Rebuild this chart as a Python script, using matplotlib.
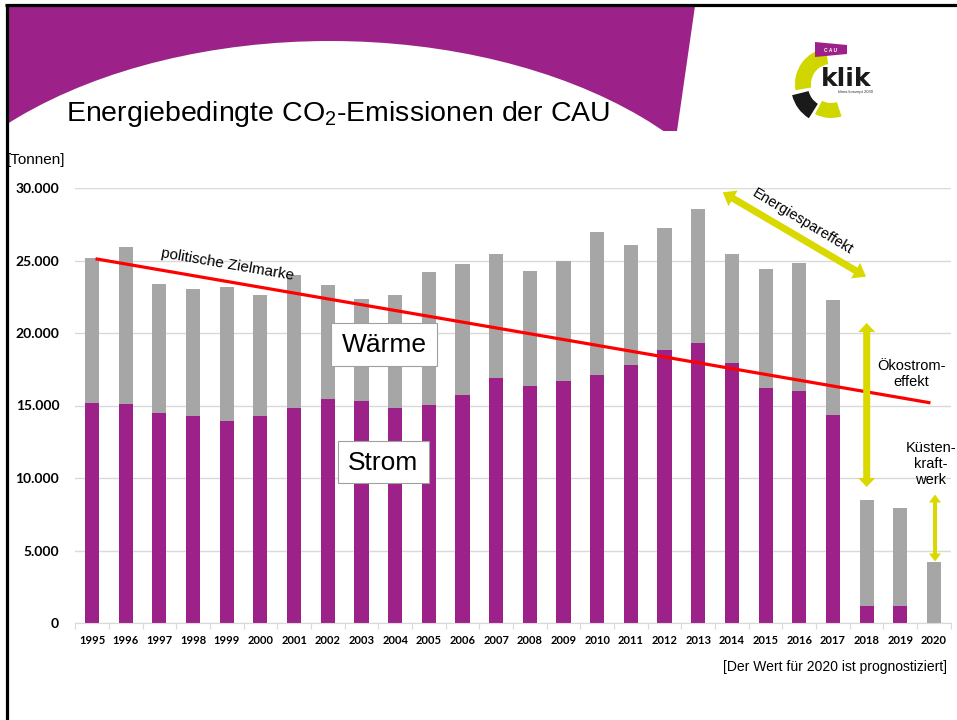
import numpy as np
import matplotlib.pyplot as plt
import matplotlib.patches as patches

plt.rcParams['font.family'] = ['Liberation Sans', 'DejaVu Sans']
plt.rcParams['mathtext.fontset'] = 'custom'
plt.rcParams['mathtext.rm'] = 'Liberation Sans'
plt.rcParams['mathtext.it'] = 'Liberation Sans:italic'
plt.rcParams['mathtext.bf'] = 'Liberation Sans:bold'

# data [Tonnen CO2]
years = ['1995', '1996', '1997', '1998', '1999', '2000', '2001', '2002', '2003',
         '2004', '2005', '2006', '2007', '2008', '2009', '2010', '2011', '2012',
         '2013', '2014', '2015', '2016', '2017', '2018', '2019', '2020']
strom = [15150, 15100, 14500, 14250, 13950, 14250, 14850, 15450, 15300,
         14800, 15050, 15750, 16900, 16350, 16700, 17100, 17800, 18800,
         19300, 17900, 16200, 16000, 14350, 1200, 1200, 0]
waerme = [10050, 10850, 8850, 8800, 9200, 8400, 9150, 7850, 7050,
          7800, 9150, 9000, 8550, 7900, 8300, 9850, 8300, 8450,
          9250, 7550, 8200, 8800, 7950, 7300, 6700, 4200]
ziel_x = [0.15, 24.85]
ziel_y = [25100, 15200]
yticks = [0, 5000, 10000, 15000, 20000, 25000, 30000]
ytick_labels = ['0', '5.000', '10.000', '15.000', '20.000', '25.000', '30.000']

purple = '#9c2289'
grey = '#a6a6a6'
yellow = '#d9d900'
gridc = '#d9d9d9'

fig = plt.figure(figsize=(9.57, 7.2), dpi=100)

# slide background, pixel coordinates
bg = fig.add_axes([0, 0, 1, 1], zorder=0)
bg.set_xlim(0, 957)
bg.set_ylim(720, 0)
bg.axis('off')

head = patches.Polygon([(6, 6), (695, 6), (677, 131), (6, 131)], closed=True,
                       color=purple, lw=0)
bg.add_patch(head)
dome = patches.Ellipse((330, 300), 880, 518, color='white', lw=0)
bg.add_patch(dome)
dome.set_clip_path(head)
bg.plot([6.7, 6.7], [4, 720], color='black', lw=2.3, solid_capstyle='butt')
bg.plot([5, 957], [5.3, 5.3], color='black', lw=2.3, solid_capstyle='butt')

# logo (y axis points down here, so wedge angles are mirrored)
lime = '#cfd600'
bg.add_patch(patches.Wedge((831, 84), 36, 170, 262, width=16, color=lime, lw=0))
bg.add_patch(patches.Wedge((829, 86), 38, 122, 166, width=17, color='#1a1a1a', lw=0))
bg.add_patch(patches.Wedge((831, 84), 34, 72, 118, width=15, color=lime, lw=0))
bg.add_patch(patches.Polygon([(815, 42), (847, 45), (847, 54), (815, 57)],
                             closed=True, color=purple, lw=0))
bg.text(831, 50, 'C A U', color='white', fontsize=3.5, ha='center', va='center',
        fontweight='bold')
bg.text(821, 86, 'klik', fontsize=18, fontweight='bold', family='DejaVu Sans',
        va='baseline', ha='left', color='#1a1a1a')
bg.text(838, 92, 'klima konzept 2030', fontsize=3, va='center', ha='left',
        color='#333333')

# chart
ax = fig.add_axes([75.2 / 957, 97 / 720, 875.6 / 957, 435 / 720], zorder=1)
ax.set_facecolor('none')
x = np.arange(len(years))
ax.bar(x, strom, width=0.42, color=purple, zorder=2)
ax.bar(x, waerme, width=0.42, bottom=strom, color=grey, zorder=2)
ax.plot(ziel_x, ziel_y, color='#ff0000', lw=2.3, zorder=3)

ax.set_xlim(-0.5, len(years) - 0.5)
ax.set_ylim(0, 30000)
ax.set_yticks(yticks)
ax.set_yticklabels(ytick_labels, family='Lato', fontweight='bold', fontsize=10)
ax.set_xticks(x)
ax.set_xticklabels(years, family='Lato', fontweight='bold', fontsize=8)
ax.set_xticks(np.arange(len(years) + 1) - 0.5, minor=True)
ax.tick_params(axis='y', length=0, pad=11.5)
ax.tick_params(axis='x', which='major', length=0, pad=8.5)
ax.tick_params(axis='x', which='minor', length=4, color=gridc, width=0.8)
ax.grid(axis='y', color=gridc, lw=1, zorder=0)
for s in ['top', 'right', 'left']:
    ax.spines[s].set_visible(False)
ax.spines['bottom'].set_color(gridc)


def double_arrow(axis, p0, p1, shaft, head_w, head_l, color):
    p0 = np.array(p0, float)
    p1 = np.array(p1, float)
    d = p1 - p0
    u = d / np.hypot(*d)
    n = np.array([-u[1], u[0]])
    pts = [p0,
           p0 + u * head_l + n * head_w / 2,
           p0 + u * head_l + n * shaft / 2,
           p1 - u * head_l + n * shaft / 2,
           p1 - u * head_l + n * head_w / 2,
           p1,
           p1 - u * head_l - n * head_w / 2,
           p1 - u * head_l - n * shaft / 2,
           p0 + u * head_l - n * shaft / 2,
           p0 + u * head_l - n * head_w / 2]
    axis.add_patch(patches.Polygon(pts, closed=True, color=color, lw=0))


# annotations, pixel coordinates
ov = fig.add_axes([0, 0, 1, 1], zorder=3)
ov.set_facecolor('none')
ov.set_xlim(0, 957)
ov.set_ylim(720, 0)
ov.axis('off')

ov.text(66, 121, 'Energiebedingte CO$_2$-Emissionen der CAU', fontsize=20.5,
        va='baseline', ha='left')
ov.text(7, 160, '[Tonnen]', fontsize=11, va='center', ha='left')
ov.text(227, 265, 'politische Zielmarke', fontsize=11, rotation=-9.8,
        rotation_mode='anchor', ha='center', va='center')

ov.add_patch(patches.Rectangle((330.7, 323.3), 106.6, 42.4, fc='white',
                               ec='#a0a0a0', lw=0.8))
ov.text(384, 345, 'Wärme', fontsize=19, ha='center', va='center')
ov.add_patch(patches.Rectangle((338, 441), 91, 42, fc='white',
                               ec='#a0a0a0', lw=0.8))
ov.text(383, 463, 'Strom', fontsize=19, ha='center', va='center')

double_arrow(ov, (722.7, 192.3), (866, 276.7), 7, 18, 12, yellow)
ov.text(803, 222, 'Energiespareffekt', fontsize=10.5, rotation=-31,
        rotation_mode='anchor', ha='center', va='center')
double_arrow(ov, (866.7, 323), (866.7, 487), 7, 17, 9, yellow)
ov.text(911, 374, 'Ökostrom-\neffekt', fontsize=10.5, ha='center', va='center',
        multialignment='center', linespacing=1.15)
double_arrow(ov, (935, 494.5), (935, 561.5), 4, 12, 8, yellow)
ov.text(931, 464, 'Küsten-\nkraft-\nwerk', fontsize=10.5, ha='center',
        va='center', multialignment='center', linespacing=1.2)

ov.text(947, 667, '[Der Wert für 2020 ist prognostiziert]', fontsize=10,
        ha='right', va='center')

fig.savefig('out.png', dpi=100)
